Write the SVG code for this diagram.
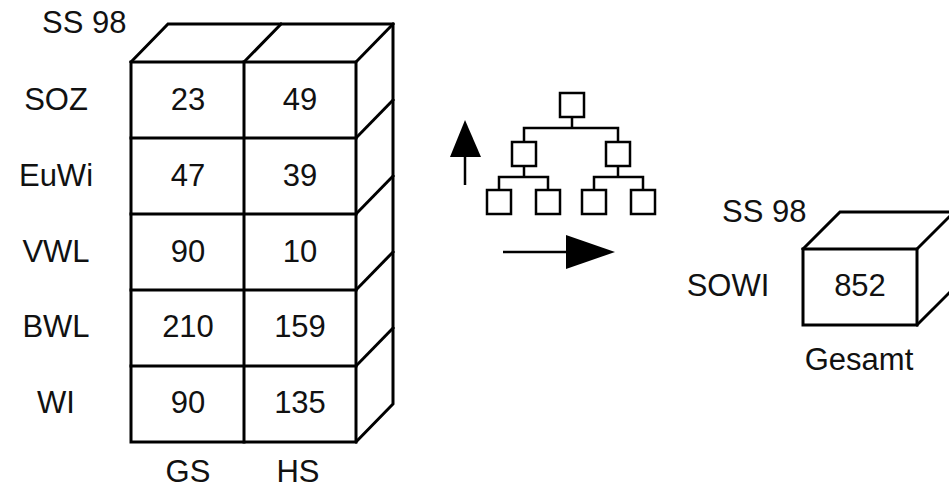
<svg xmlns="http://www.w3.org/2000/svg" width="949" height="490" viewBox="0 0 949 490">
<style>
.ln{fill:none;stroke:#000;stroke-width:3;stroke-linejoin:miter;stroke-linecap:square}
.tr{fill:none;stroke:#000;stroke-width:2.5}
.t{font-family:"Liberation Sans",Arial,sans-serif;font-size:31px;fill:#111}
.m{text-anchor:middle}
</style>
<rect width="949" height="490" fill="#fff"/>
<g id="cube-detail">
<rect class="ln" x="131" y="62" width="225" height="380"/>
<line class="ln" x1="244" y1="62" x2="244" y2="442"/>
<line class="ln" x1="131" y1="138" x2="356" y2="138"/>
<line class="ln" x1="131" y1="214" x2="356" y2="214"/>
<line class="ln" x1="131" y1="290" x2="356" y2="290"/>
<line class="ln" x1="131" y1="366" x2="356" y2="366"/>
<polyline class="ln" points="131,62 168,24 393,24 393,404 356,442"/>
<line class="ln" x1="244" y1="62" x2="281" y2="24"/>
<line class="ln" x1="356" y1="62" x2="393" y2="24"/>
<line class="ln" x1="356" y1="138" x2="393" y2="100"/>
<line class="ln" x1="356" y1="214" x2="393" y2="176"/>
<line class="ln" x1="356" y1="290" x2="393" y2="252"/>
<line class="ln" x1="356" y1="366" x2="393" y2="328"/>
<text class="t" x="42" y="33">SS 98</text>
<text class="t m" x="56" y="110">SOZ</text>
<text class="t m" x="56" y="186">EuWi</text>
<text class="t m" x="56" y="262">VWL</text>
<text class="t m" x="56" y="337">BWL</text>
<text class="t m" x="56" y="413">WI</text>
<text class="t m" x="188" y="110">23</text>
<text class="t m" x="300" y="110">49</text>
<text class="t m" x="188" y="186">47</text>
<text class="t m" x="300" y="186">39</text>
<text class="t m" x="188" y="262">90</text>
<text class="t m" x="300" y="262">10</text>
<text class="t m" x="188" y="337">210</text>
<text class="t m" x="300" y="337">159</text>
<text class="t m" x="188" y="413">90</text>
<text class="t m" x="300" y="413">135</text>
<text class="t m" x="188" y="482">GS</text>
<text class="t m" x="298" y="482">HS</text>
</g>
<g id="hierarchy">
<rect class="tr" x="560" y="93" width="24" height="24"/>
<rect class="tr" x="512" y="142" width="24" height="24"/>
<rect class="tr" x="606" y="142" width="24" height="24"/>
<rect class="tr" x="487" y="190" width="24" height="24"/>
<rect class="tr" x="536" y="190" width="24" height="24"/>
<rect class="tr" x="582" y="190" width="24" height="24"/>
<rect class="tr" x="631" y="190" width="24" height="24"/>
</g>
<g id="connectors">
<polyline class="tr" points="572,117 572,128"/>
<polyline class="tr" points="524,142 524,128 618,128 618,142"/>
<polyline class="tr" points="524,166 524,177"/>
<polyline class="tr" points="618,166 618,177"/>
<polyline class="tr" points="499,190 499,177 548,177 548,190"/>
<polyline class="tr" points="594,190 594,177 643,177 643,190"/>
<line x1="465" y1="150" x2="465" y2="185" stroke="#000" stroke-width="2.5"/>
<polygon points="465,120 481,157 450,157" fill="#000"/>
<line x1="503" y1="252" x2="570" y2="252" stroke="#000" stroke-width="2.5"/>
<polygon points="615,252 566,235 566,269" fill="#000"/>
</g>
<g id="cube-total">
<rect class="ln" x="803" y="249" width="114" height="76"/>
<polyline class="ln" points="803,249 840,212 954,212"/>
<line class="ln" x1="917" y1="249" x2="954" y2="212"/>
<line class="ln" x1="917" y1="325" x2="954" y2="288"/>
<text class="t" x="722" y="222">SS 98</text>
<text class="t m" x="728" y="296">SOWI</text>
<text class="t m" x="860" y="296">852</text>
<text class="t m" x="859" y="370">Gesamt</text>
</g>
</svg>
